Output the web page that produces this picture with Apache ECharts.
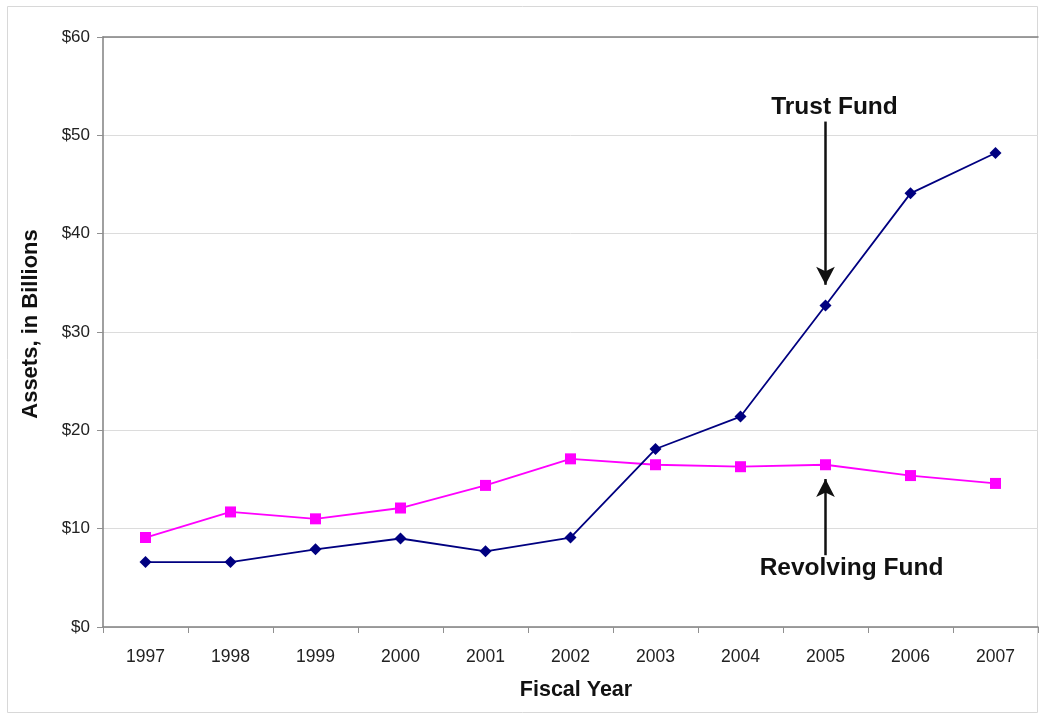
<!DOCTYPE html>
<html>
<head>
<meta charset="utf-8">
<script src="https://cdn.jsdelivr.net/npm/echarts@6/dist/echarts.min.js"></script>
<style>
html,body{margin:0;padding:0;background:#fff;}
#chart{width:1039px;height:715px;}
</style>
</head>
<body>
<div id="chart"></div>
<script>
const categories = ['1997','1998','1999','2000','2001','2002','2003','2004','2005','2006','2007'];
const trustFund = [6.6, 6.6, 7.9, 9.0, 7.7, 9.1, 18.1, 21.4, 32.7, 44.1, 48.2];
const revolvingFund = [9.1, 11.7, 11.0, 12.1, 14.4, 17.1, 16.5, 16.3, 16.5, 15.4, 14.6];
const yTicks = { min: 0, max: 60, interval: 10 };

const FONT = '"Liberation Sans", Arial, Helvetica, sans-serif';

const chart = echarts.init(document.getElementById('chart'), null, { renderer: 'canvas' });
chart.setOption({
  animation: false,
  backgroundColor: '#fff',
  textStyle: { fontFamily: FONT },
  graphic: [{
    type: 'rect', shape: { x: 7.5, y: 6.5, width: 1030, height: 706 },
    style: { fill: 'none', stroke: '#d8d8d8', lineWidth: 1 }, silent: true, z: -1
  }],
  grid: { left: 103, right: 1, top: 37, bottom: 88, containLabel: false },
  xAxis: [{
    type: 'category',
    data: categories,
    boundaryGap: true,
    name: 'Fiscal Year',
    nameLocation: 'middle',
    nameGap: 52,
    nameTextStyle: { fontFamily: FONT, fontSize: 21.5, fontWeight: 'bold', color: '#111', padding: [0, 0, 0, 11] },
    axisLine: { lineStyle: { color: '#808080', width: 1.5 } },
    axisTick: { show: true, alignWithLabel: false, length: 6, lineStyle: { color: '#909090' } },
    axisLabel: { fontFamily: FONT, fontSize: 17.5, color: '#222', margin: 21 },
    splitLine: { show: false }
  }, {
    type: 'category',
    data: categories,
    position: 'top',
    axisLine: { show: true, lineStyle: { color: '#808080', width: 1.5 } },
    axisTick: { show: false },
    axisLabel: { show: false },
    splitLine: { show: false }
  }],
  yAxis: {
    type: 'value',
    min: yTicks.min, max: yTicks.max, interval: yTicks.interval,
    name: 'Assets, in Billions',
    nameLocation: 'middle',
    nameRotate: 90,
    nameGap: 61,
    nameTextStyle: { fontFamily: FONT, fontSize: 22, fontWeight: 'bold', color: '#111', padding: [0, 0, 0, 16] },
    axisLine: { show: true, lineStyle: { color: '#808080', width: 1.5 } },
    axisTick: { show: true, length: 6, lineStyle: { color: '#909090' } },
    axisLabel: { fontFamily: FONT, fontSize: 17, color: '#222', margin: 13, formatter: '${value}' },
    splitLine: { show: true, lineStyle: { color: '#dcdcdc', width: 1 } }
  },
  series: [{
    name: 'Trust Fund',
    type: 'line',
    data: trustFund,
    symbol: 'diamond',
    symbolSize: 12,
    lineStyle: { color: '#000080', width: 1.8 },
    itemStyle: { color: '#000080' },
    z: 3,
    markLine: {
      silent: true,
      symbol: ['none', 'arrow'],
      symbolSize: [14, 18],
      label: { show: false },
      lineStyle: { color: '#111', width: 2.5, type: 'solid' },
      data: [[{ coord: ['2005', 51.4] }, { coord: ['2005', 34.8] }]]
    },
    markPoint: {
      silent: true,
      symbol: 'circle', symbolSize: 1,
      itemStyle: { color: 'rgba(0,0,0,0)' },
      label: { show: true, position: 'inside', offset: [9, 0], fontFamily: FONT, fontSize: 24.5, fontWeight: 'bold', color: '#111', formatter: 'Trust Fund' },
      data: [{ coord: ['2005', 52.9] }]
    }
  }, {
    name: 'Revolving Fund',
    type: 'line',
    data: revolvingFund,
    symbol: 'rect',
    symbolSize: 11,
    lineStyle: { color: '#ff00ff', width: 1.8 },
    itemStyle: { color: '#ff00ff' },
    z: 2,
    markLine: {
      silent: true,
      symbol: ['none', 'arrow'],
      symbolSize: [14, 18],
      label: { show: false },
      lineStyle: { color: '#111', width: 2.5, type: 'solid' },
      data: [[{ coord: ['2005', 7.3] }, { coord: ['2005', 15.05] }]]
    },
    markPoint: {
      silent: true,
      symbol: 'circle', symbolSize: 1,
      itemStyle: { color: 'rgba(0,0,0,0)' },
      label: { show: true, position: 'inside', offset: [26, 0], fontFamily: FONT, fontSize: 24.5, fontWeight: 'bold', color: '#111', formatter: 'Revolving Fund' },
      data: [{ coord: ['2005', 6.0] }]
    }
  }]
});
</script>
</body>
</html>
